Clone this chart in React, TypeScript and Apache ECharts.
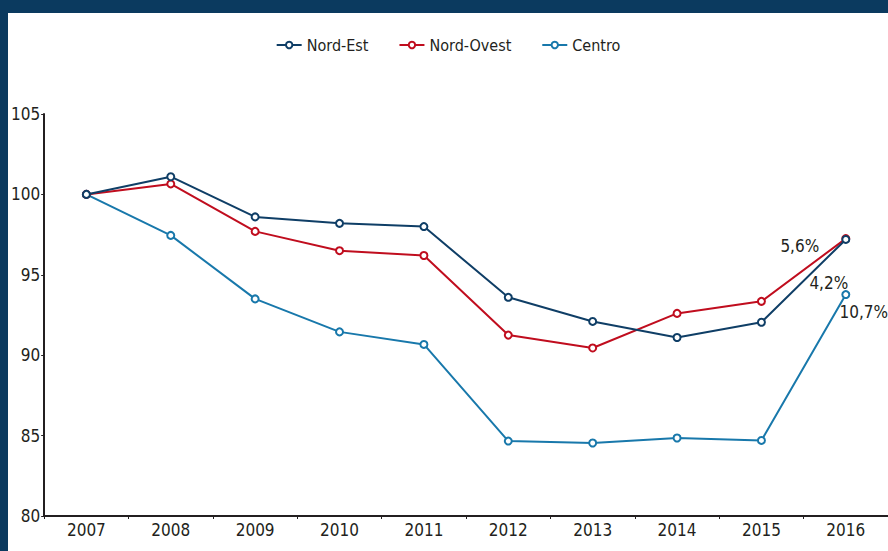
import React, { useEffect, useRef } from "react";
import * as echarts from "echarts";

const years = ["2007", "2008", "2009", "2010", "2011", "2012", "2013", "2014", "2015", "2016"];
const nordEst = [100, 101.1, 98.6, 98.2, 98.0, 93.6, 92.1, 91.1, 92.05, 97.2];
const nordOvest = [100, 100.65, 97.7, 96.5, 96.2, 91.25, 90.45, 92.6, 93.35, 97.25];
const centro = [100, 97.45, 93.5, 91.45, 90.67, 84.66, 84.54, 84.85, 84.7, 93.77];
const seriesNames = ["Nord-Est", "Nord-Ovest", "Centro"];
const endLabels = ["5,6%", "4,2%", "10,7%"];

const FONT = "'Liberation Sans Narrow', 'DejaVu Sans Condensed', sans-serif";
const TEXT = "#231f20";

export default function App() {
  const ref = useRef<HTMLDivElement>(null);
  useEffect(() => {
    document.body.style.margin = "0";
    const chart = echarts.init(ref.current!, null, { renderer: "svg" });
    const colors = ["#0f3e66", "#c00d1e", "#1878ab"];
    const offsets = [[-46, 7], [-17, 44], [18, 17]];
    const all = [nordEst, nordOvest, centro];
    const series = all.map((vals, i) => ({
      name: seriesNames[i],
      type: "line",
      data: vals.map((v, j) =>
        j === vals.length - 1
          ? {
              value: v,
              label: {
                show: true,
                formatter: endLabels[i],
                position: "inside",
                offset: offsets[i],
                fontSize: 17,
                fontFamily: FONT,
                color: TEXT,
              },
            }
          : v
      ),
      symbol: "emptyCircle",
      symbolSize: 7,
      lineStyle: { width: 2, color: colors[i] },
      itemStyle: { color: colors[i], borderWidth: 1 },
      z: 3 - i,
    }));
    chart.setOption({
      animation: false,
      backgroundColor: "transparent",
      color: colors,
      textStyle: { fontFamily: FONT },
      legend: {
        top: 19,
        left: "center",
        itemWidth: 25,
        itemHeight: 8,
        itemGap: 30,
        data: seriesNames,
        textStyle: { fontSize: 16, color: TEXT, fontFamily: FONT },
      },
      grid: { left: 30, right: -12, top: 101, bottom: 35, containLabel: false },
      xAxis: {
        type: "category",
        data: years,
        boundaryGap: true,
        axisLine: { lineStyle: { color: TEXT, width: 2 } },
        axisTick: { show: true, length: 3, lineStyle: { color: TEXT } },
        axisLabel: { fontSize: 17, color: TEXT, fontFamily: FONT, margin: 5 },
        splitLine: { show: false },
      },
      yAxis: {
        type: "value",
        min: 80,
        max: 105,
        interval: 5,
        axisLine: { show: true, lineStyle: { color: TEXT, width: 2 } },
        axisTick: { show: true, length: 3, lineStyle: { color: TEXT } },
        axisLabel: { fontSize: 17, color: TEXT, fontFamily: FONT, margin: 4 },
        splitLine: { show: false },
      },
      series,
    });
    return () => chart.dispose();
  }, []);
  return (
    <div style={{ position: "absolute", left: 0, top: 0, width: 888, height: 551, background: "#0b3a5f" }}>
      <div style={{ position: "absolute", left: 8, top: 13, width: 880, height: 538, background: "#ffffff" }}>
        <div ref={ref} style={{ width: 880, height: 538 }} />
      </div>
    </div>
  );
}
